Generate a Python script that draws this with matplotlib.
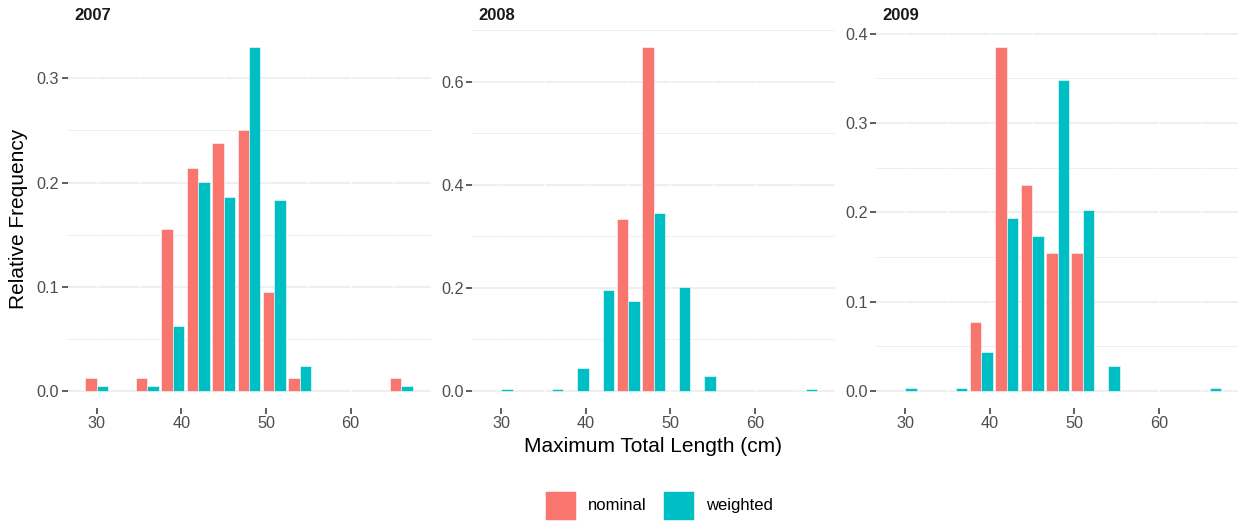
import matplotlib
matplotlib.use("Agg")
import matplotlib.pyplot as plt
import numpy as np

plt.rcParams['font.family'] = ['Liberation Sans', 'DejaVu Sans']

# histogram bin centres (bin width 3 cm)
bin_centers = [30, 33, 36, 39, 42, 45, 48, 51, 54, 57, 60, 63, 66]
years = ["2007", "2008", "2009"]

nominal_2007 = [0.012, 0, 0.012, 0.155, 0.214, 0.238, 0.250, 0.095, 0.012, 0, 0, 0, 0.012]
weighted_2007 = [0.0045, 0, 0.0045, 0.062, 0.201, 0.186, 0.330, 0.183, 0.024, 0, 0, 0, 0.0045]
nominal_2008 = [0, 0, 0, 0, 0, 0.333, 0.667, 0, 0, 0, 0, 0, 0]
weighted_2008 = [0.004, 0, 0.004, 0.045, 0.195, 0.174, 0.346, 0.201, 0.028, 0, 0, 0, 0.004]
nominal_2009 = [0, 0, 0, 0.077, 0.385, 0.231, 0.154, 0.154, 0, 0, 0, 0, 0]
weighted_2009 = [0.003, 0, 0.003, 0.044, 0.194, 0.173, 0.348, 0.203, 0.028, 0, 0, 0, 0.003]

nominal = [nominal_2007, nominal_2008, nominal_2009]
weighted = [weighted_2007, weighted_2008, weighted_2009]
y_major = [[0, 0.1, 0.2, 0.3], [0, 0.2, 0.4, 0.6], [0, 0.1, 0.2, 0.3, 0.4]]
x_major = [30, 40, 50, 60]
x_minor = [35, 45, 55, 65]

RED = "#F8766D"
CYAN = "#00BFC4"
GRID = "#EBEBEB"

W, H = 1238, 523
fig = plt.figure(figsize=(W / 100, H / 100), dpi=100)

lefts = [67.5, 472, 876]
pw = 363
top_px, bot_px = 30, 408

bw = 3 * 0.9 / 2
handles = None
for i in range(3):
    ax = fig.add_axes([lefts[i] / W, 1 - bot_px / H, pw / W, (bot_px - top_px) / H])
    x = np.array(bin_centers, dtype=float)
    n = np.array(nominal[i])
    w = np.array(weighted[i])
    mn = n > 0
    mw = w > 0
    b1 = ax.bar(x[mn] - bw / 2, n[mn], width=bw, color=RED, edgecolor="white",
                linewidth=0.4, zorder=3, label="nominal")
    b2 = ax.bar(x[mw] + bw / 2, w[mw], width=bw, color=CYAN, edgecolor="white",
                linewidth=0.4, zorder=3, label="weighted")
    if handles is None:
        handles = [b1, b2]

    ymax = max(n.max(), w.max())
    ax.set_ylim(-0.05 * ymax, 1.05 * ymax)
    ax.set_xlim(26.55, 69.45)

    ax.set_yticks(y_major[i])
    ax.set_yticklabels([f"{v:.1f}" for v in y_major[i]])
    step = y_major[i][1] - y_major[i][0]
    minors = [v + step / 2 for v in y_major[i] if v + step / 2 < 1.05 * ymax]
    for v in y_major[i]:
        ax.axhline(v, color=GRID, lw=1.1, zorder=0)
    for v in minors:
        ax.axhline(v, color=GRID, lw=0.6, zorder=0)
    for v in x_major + x_minor:
        ax.axvline(v, color="white", lw=0.8, zorder=1)

    ax.set_xticks(x_major)
    ax.tick_params(axis="both", length=4, width=1.1, color="#333333",
                   labelcolor="#4D4D4D", labelsize=11.7, pad=2)
    for s in ax.spines.values():
        s.set_visible(False)

    fig.text((lefts[i] + 6.5) / W, 1 - 15 / H, years[i], fontsize=12,
             fontweight="bold", color="#1A1A1A", ha="left", va="center")

fig.text(653 / W, 1 - 447 / H, "Maximum Total Length (cm)", fontsize=15,
         ha="center", va="center", color="black")
fig.text(19 / W, 1 - 219 / H, "Relative Frequency", fontsize=15, rotation=90,
         ha="center", va="center", color="black")

fig.legend(handles=handles, labels=["nominal", "weighted"], loc="center",
           bbox_to_anchor=(659 / W, 1 - 505 / H), ncol=2, frameon=False,
           fontsize=12, handlelength=1.85, handleheight=2.3,
           handletextpad=0.7, columnspacing=1.0)

fig.savefig("out.png", dpi=100, facecolor="white")
